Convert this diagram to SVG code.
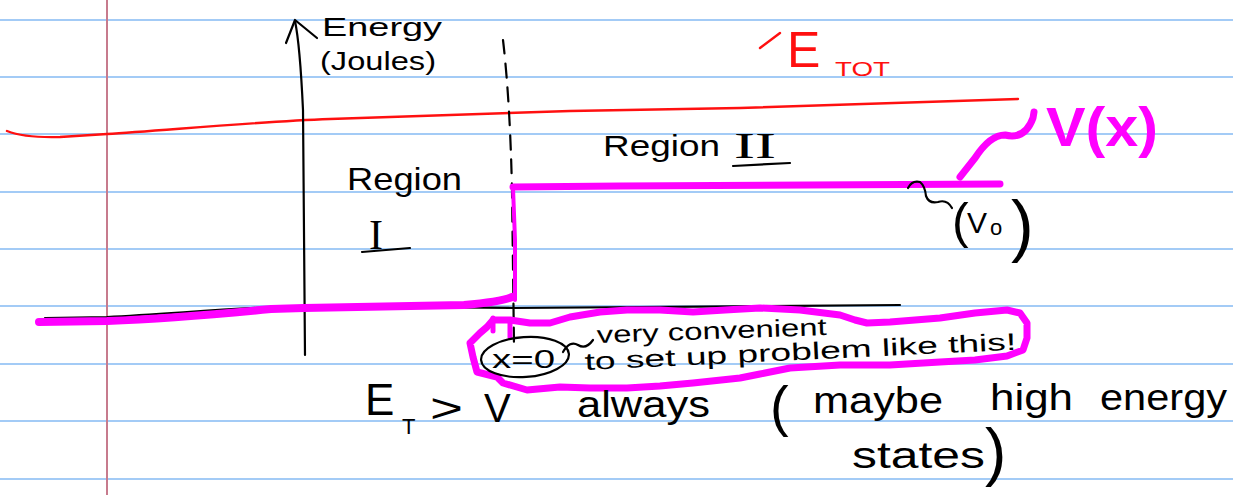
<svg xmlns="http://www.w3.org/2000/svg" width="1233" height="495" viewBox="0 0 1233 495">
  <style>
    .rule { stroke: #a3cbf6; stroke-width: 2; fill: none; }
    .margin { stroke: #c77b8d; stroke-width: 2; fill: none; }
    .ink { stroke: #000; stroke-width: 2.2; fill: none; stroke-linecap: round; stroke-linejoin: round; }
    .red { stroke: #ff1010; stroke-width: 2.4; fill: none; stroke-linecap: round; stroke-linejoin: round; }
    .mag { stroke: #ff00ff; fill: none; stroke-linecap: round; stroke-linejoin: round; }
    .hw { font-family: "Liberation Sans", Arial, sans-serif; fill: #000; }
    .hws { font-family: "Liberation Serif", "Times New Roman", serif; fill: #000; }
  </style>

  <g id="paper">
    <rect x="0" y="0" width="1233" height="495" fill="#ffffff"/>
    <path class="rule" d="M0,20H1233M0,77H1233M0,134H1233M0,192H1233M0,249H1233M0,306H1233M0,364H1233M0,421H1233M0,479H1233"/>
    <path class="margin" d="M107,0V495"/>
  </g>

  <g id="total-energy">
    <path class="red" d="M7,131 Q25,138 60,137 L107,134 C160,131 250,122 330,119 L570,111 L740,108 L1018,99"/>
    <path class="red" d="M760,48 L780,33"/>
    <text class="hw" x="787" y="67" font-size="50" style="fill:#ff1010">E</text>
    <text class="hw" x="835" y="76" font-size="20" textLength="55" lengthAdjust="spacingAndGlyphs" style="fill:#ff1010">TOT</text>
  </g>

  <g id="axes">
    <path class="ink" d="M305,355 L303,110 Q300,45 295,21"/>
    <path class="ink" d="M286,43 L295,20 L317,38"/>
    <text class="hw" x="322" y="36" font-size="26" textLength="120" lengthAdjust="spacingAndGlyphs">Energy</text>
    <text class="hw" x="320" y="70" font-size="26" textLength="116" lengthAdjust="spacingAndGlyphs">(Joules)</text>
    <path class="ink" d="M45,318 L107,317 C180,313 250,307 304,306 L514,308 L900,305"/>
    <path class="ink" d="M503,40 Q510,100 512,190 L514,345" stroke-dasharray="14 10"/>
  </g>

  <g id="potential">
    <path class="mag" stroke-width="8" d="M39,322 L107,321 C160,319 230,313 271,309 L304,308 L464,305 Q500,302 512,297"/>
    <path class="mag" stroke-width="4" d="M515,300 L515,240 L513,188"/>
    <path class="mag" stroke-width="7" d="M513,187 L620,186 L1000,184"/>
    <path class="mag" stroke-width="7" d="M960,177 L975,158 Q990,135 1005,135 Q1025,140 1033,118 L1034,112"/>
    <text class="hw" x="1046" y="146" font-size="56" font-weight="bold" textLength="112" lengthAdjust="spacingAndGlyphs" style="fill:#ff00ff">V(x)</text>
  </g>

  <g id="region-1">
    <text class="hw" x="347" y="190" font-size="32" textLength="115" lengthAdjust="spacingAndGlyphs">Region</text>
    <text class="hws" x="369" y="249" font-size="42">I</text>
    <path class="ink" d="M362,252 L410,248"/>
  </g>

  <g id="region-2">
    <text class="hw" x="603" y="156" font-size="30" textLength="117" lengthAdjust="spacingAndGlyphs">Region</text>
    <text class="hws" x="734" y="158" font-size="36" textLength="42" lengthAdjust="spacingAndGlyphs">II</text>
    <path class="ink" d="M733,166 L790,163"/>
  </g>

  <g id="v0-label">
    <path class="ink" d="M908,188 Q912,180 920,182 Q925,186 926,196 Q929,204 938,202 Q947,199 952,208"/>
    <text class="hw" font-size="40"><tspan x="952" y="238" font-size="50">(</tspan><tspan x="967" y="233" font-size="30">V</tspan><tspan x="990" y="235" font-size="22">o</tspan><tspan x="1011" y="249" font-size="68">)</tspan></text>
  </g>

  <g id="note">
    <path class="mag" stroke-width="7" d="M493,320 L510,320 L530,323 L550,323 L570,317 L600,312 L627,310 L660,310 L693,312 L725,310 L760,308 L800,310 L840,315 L855,320 L867,323 L890,322 L915,320 L940,318 L975,313 L1007,310 L1020,313 L1027,323 L1027,338 L1023,350 L1007,356 L975,360 L940,362 L890,365 L840,365 L790,368 L760,374 L740,378 L693,383 L660,386 L627,388 L590,388 L560,387 L527,390 L503,383 L497,377 L477,372 L473,357 L470,343 L480,333 L487,327 L493,320"/>
    <path class="mag" stroke-width="5" d="M493,318 L493,331 M510,323 L510,337"/>
    <ellipse class="ink" cx="525" cy="357" rx="44" ry="20" transform="rotate(-4 525 357)"/>
    <text class="hw" x="492" y="368" font-size="26" textLength="63" lengthAdjust="spacingAndGlyphs">x=0</text>
    <path class="ink" d="M563,352 Q570,340 578,345 Q586,350 593,340"/>
    <text class="hw" x="597" y="343" font-size="24" textLength="230" lengthAdjust="spacingAndGlyphs" transform="rotate(-2 597 343)">very convenient</text>
    <text class="hw" x="585" y="370" font-size="24" textLength="432" lengthAdjust="spacingAndGlyphs" transform="rotate(-2.7 585 370)">to set up problem like this!</text>
  </g>

  <g id="conclusion">
    <text class="hw" x="365" y="415" font-size="44">E</text>
    <text class="hw" x="402" y="434" font-size="22">T</text>
    <text class="hw" x="430" y="422" font-size="40" textLength="33" lengthAdjust="spacingAndGlyphs">&gt;</text>
    <text class="hw" x="484" y="422" font-size="40">V</text>
    <text class="hw" x="577" y="417" font-size="36" textLength="133" lengthAdjust="spacingAndGlyphs">always</text>
    <text class="hw" x="770" y="425" font-size="56">(</text>
    <text class="hw" x="813" y="413" font-size="36" textLength="130" lengthAdjust="spacingAndGlyphs">maybe</text>
    <text class="hw" x="990" y="410" font-size="36" textLength="83" lengthAdjust="spacingAndGlyphs">high</text>
    <text class="hw" x="1100" y="410" font-size="36" textLength="127" lengthAdjust="spacingAndGlyphs">energy</text>
    <text class="hw" x="852" y="468" font-size="36" textLength="133" lengthAdjust="spacingAndGlyphs">states</text>
    <text class="hw" x="985" y="474" font-size="64">)</text>
  </g>
</svg>
